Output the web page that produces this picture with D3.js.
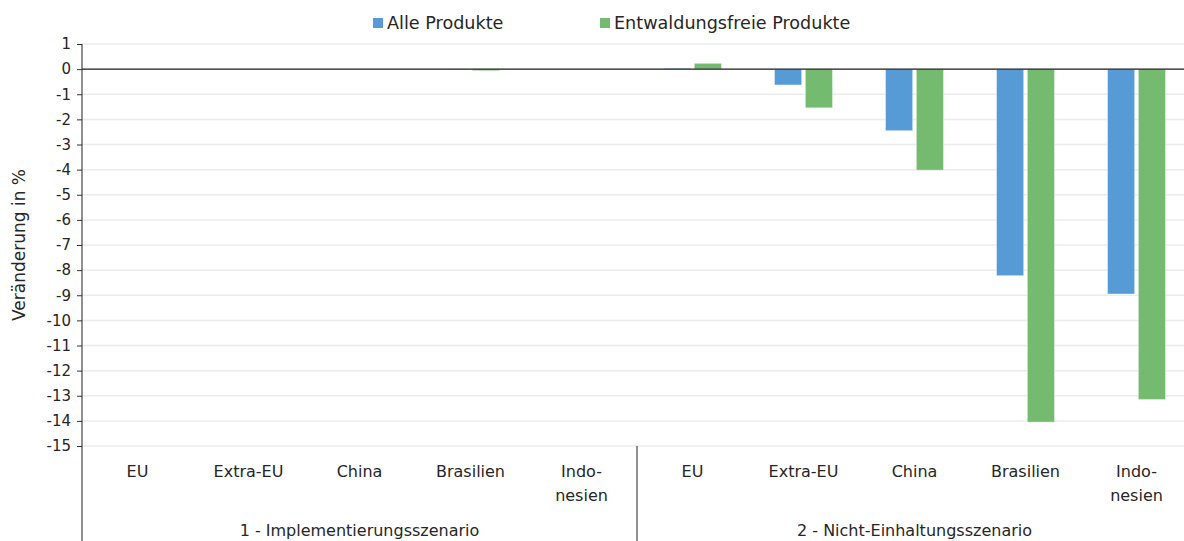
<!DOCTYPE html>
<html>
<head>
<meta charset="utf-8">
<script src="https://cdn.jsdelivr.net/npm/d3@7"></script>
<style>
  body { margin: 0; background: #fff; }
  svg text { font-family: "DejaVu Sans", sans-serif; fill: #262626; }
</style>
</head>
<body>
<div id="chart"></div>
<script>
var scenarios = ["1 - Implementierungsszenario", "2 - Nicht-Einhaltungsszenario"];
var regions = ["EU", "Extra-EU", "China", "Brasilien", "Indo-|nesien"];
var seriesNames = ["Alle Produkte", "Entwaldungsfreie Produkte"];
var colors = ["#579bd6", "#74bb6f"];

// Veränderung in %, je Szenario x Region
var alleProdukte = [0, 0, 0, -0.02, -0.01, 0.03, -0.63, -2.45, -8.22, -8.95];
var entwaldungsfrei = [0, 0, 0, -0.06, -0.02, 0.23, -1.54, -4.02, -14.05, -13.15];

var yTicks = d3.range(1, -16, -1);

var margin = {top: 44, right: -8, bottom: 95, left: 82},
    W = 1184, H = 541,
    width = W - margin.left - margin.right,
    height = H - margin.top - margin.bottom;

var cats = [];
scenarios.forEach(function(s, si) {
  regions.forEach(function(r, ri) { cats.push({scen: si, region: r, i: si * regions.length + ri}); });
});

var x = d3.scaleBand().domain(cats.map(function(d) { return d.i; })).range([0, width]);
var xSeries = d3.scaleBand().domain([0, 1]).range([x.bandwidth() / 2 - 29, x.bandwidth() / 2 + 29]).paddingInner(0.12);
var y = d3.scaleLinear().domain([-15, 1]).range([height, 0]);

var svg = d3.select("#chart").append("svg")
    .attr("width", W)
    .attr("height", H);

var g = svg.append("g").attr("transform", "translate(" + margin.left + "," + margin.top + ")");

// Gitterlinien
g.append("g").selectAll("line").data(yTicks).enter().append("line")
    .attr("x1", 0).attr("x2", width)
    .attr("y1", function(d) { return y(d); }).attr("y2", function(d) { return y(d); })
    .attr("stroke", "#ececec").attr("stroke-width", 1.5);

// Balken
var series = [alleProdukte, entwaldungsfrei];
series.forEach(function(vals, si) {
  g.append("g").selectAll("rect").data(cats).enter().append("rect")
      .attr("x", function(d) { return x(d.i) + xSeries(si); })
      .attr("width", xSeries.bandwidth())
      .attr("y", function(d) { return y(Math.max(0, vals[d.i])); })
      .attr("height", function(d) { return Math.abs(y(vals[d.i]) - y(0)); })
      .attr("fill", colors[si])
      .attr("stroke", "#fff").attr("stroke-opacity", 0.4).attr("stroke-width", 1);
});

// Nulllinie
g.append("line")
    .attr("x1", 0).attr("x2", width)
    .attr("y1", y(0)).attr("y2", y(0))
    .attr("stroke", "#222").attr("stroke-width", 1.2);

// y-Achse
var yAxis = d3.axisLeft(y).tickValues(yTicks).tickSize(5).tickPadding(6)
    .tickFormat(function(d) { return String(d); });
var ya = g.append("g").call(yAxis);
ya.select(".domain").remove();
ya.selectAll("line").attr("stroke", "#333");
ya.selectAll("text").style("font-size", "15px").style("font-family", "DejaVu Sans").attr("fill", "#262626");

g.append("line")
    .attr("x1", 0).attr("x2", 0)
    .attr("y1", 0).attr("y2", H - margin.top)
    .attr("stroke", "#222").attr("stroke-width", 1);

// Trennlinie zwischen Szenarien
g.append("line")
    .attr("x1", x(regions.length)).attr("x2", x(regions.length))
    .attr("y1", height).attr("y2", H - margin.top)
    .attr("stroke", "#222").attr("stroke-width", 1);

// Kategorien
var catLabels = g.append("g").selectAll("text").data(cats).enter().append("text")
    .attr("text-anchor", "middle")
    .style("font-size", "16px");
catLabels.each(function(d) {
  var parts = d.region.split("|");
  var t = d3.select(this);
  parts.forEach(function(p, k) {
    t.append("tspan")
        .attr("x", x(d.i) + x.bandwidth() / 2)
        .attr("y", height + 31 + k * 24)
        .text(p);
  });
});

// Szenarien
g.append("g").selectAll("text").data(scenarios).enter().append("text")
    .attr("x", function(d, i) { return x(i * regions.length) + x.bandwidth() * regions.length / 2; })
    .attr("y", height + 90)
    .attr("text-anchor", "middle")
    .style("font-size", "16px")
    .text(function(d) { return d; });

// y-Achsentitel
svg.append("text")
    .attr("transform", "translate(25," + (margin.top + height / 2) + ") rotate(-90)")
    .attr("text-anchor", "middle")
    .style("font-size", "17px")
    .text("Veränderung in %");

// Legende
var legendX = [373, 600];
var legend = svg.append("g").selectAll("g").data(seriesNames).enter().append("g")
    .attr("transform", function(d, i) { return "translate(" + legendX[i] + ",18)"; });
legend.append("rect").attr("width", 10).attr("height", 10)
    .attr("fill", function(d, i) { return colors[i]; });
legend.append("text").attr("x", 14).attr("y", 11)
    .style("font-size", "17.6px")
    .text(function(d) { return d; });
</script>
</body>
</html>
